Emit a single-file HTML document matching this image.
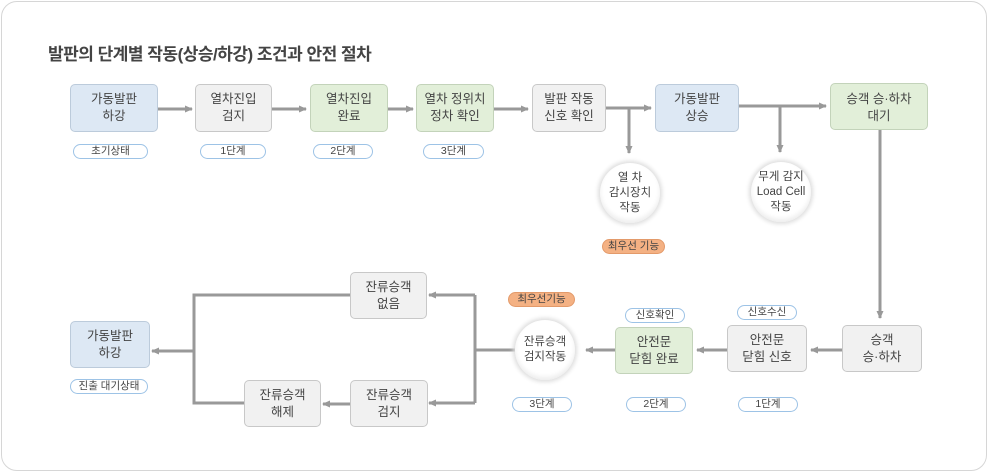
<!DOCTYPE html>
<html><head><meta charset="utf-8"><style>
body{margin:0;width:990px;height:474px;background:#fff;font-family:"Liberation Sans","Noto Sans CJK KR",sans-serif;position:relative;overflow:hidden}
.card{position:absolute;left:1px;top:1px;width:986px;height:470px;border:1px solid #d6d6d6;border-radius:16px;box-sizing:border-box}
.t{position:absolute;left:48px;top:40px;font-size:17px;font-weight:bold;color:#444;letter-spacing:-0.5px}
.b{position:absolute;box-sizing:border-box;border:1px solid #c8c8c8;border-radius:5px;display:flex;align-items:center;justify-content:center;text-align:center;font-size:12.5px;line-height:17px;color:#444}
.g{background:#f1f1f1}.bl{background:#dde8f4;border-color:#bccbdb}.gr{background:#e2efd9;border-color:#c3d3ba}
.p{position:absolute;box-sizing:border-box;height:15px;border:1px solid #9dc3e6;border-radius:8px;background:#fff;font-size:10.5px;line-height:13px;text-align:center;color:#444}
.o{background:#f4b183;border-color:#e39a6a}
.c{position:absolute;width:60px;height:60px;border-radius:50%;background:#fff;box-shadow:0 0 4px 2px #ddd,inset 0 -3px 5px #eee;display:flex;align-items:center;justify-content:center;text-align:center;font-size:11.5px;line-height:15px;color:#444}
svg{position:absolute;left:0;top:0}
</style></head><body>
<div class="card"></div>
<div class="t">발판의 단계별 작동(상승/하강) 조건과 안전 절차</div>
<svg width="990" height="474">
<defs><marker id="a" markerWidth="8" markerHeight="8" refX="7" refY="4" orient="auto" markerUnits="userSpaceOnUse"><path d="M0,0.5L8,4L0,7.5z" fill="#999"/></marker></defs>
<g stroke="#999" stroke-width="3" fill="none">
<path d="M158,109H192" marker-end="url(#a)"/>
<path d="M272,109H306" marker-end="url(#a)"/>
<path d="M388,109H413" marker-end="url(#a)"/>
<path d="M494,109H528" marker-end="url(#a)"/>
<path d="M606,108H651" marker-end="url(#a)"/>
<path d="M629,108V153" marker-end="url(#a)"/>
<path d="M739,106H826" marker-end="url(#a)"/>
<path d="M780,106V152" marker-end="url(#a)"/>
<path d="M880,130V318" marker-end="url(#a)"/>
<path d="M842,350H811" marker-end="url(#a)"/>
<path d="M727,350H697" marker-end="url(#a)"/>
<path d="M615,350H586" marker-end="url(#a)"/>
<path d="M515,350H475"/>
<path d="M475,295V403"/>
<path d="M475,295H429" marker-end="url(#a)"/>
<path d="M475,403H429" marker-end="url(#a)"/>
<path d="M350,404H323" marker-end="url(#a)"/>
<path d="M350,295H194V403H244"/>
<path d="M194,351H152" marker-end="url(#a)"/>
</g></svg>
<div class="b bl" style="left:70px;top:84px;width:88px;height:48px">가동발판<br>하강</div>
<div class="b g" style="left:195px;top:84px;width:77px;height:48px">열차진입<br>검지</div>
<div class="b gr" style="left:310px;top:84px;width:78px;height:48px">열차진입<br>완료</div>
<div class="b gr" style="left:416px;top:84px;width:78px;height:48px">열차 정위치<br>정차 확인</div>
<div class="b g" style="left:532px;top:84px;width:74px;height:48px">발판 작동<br>신호 확인</div>
<div class="b bl" style="left:655px;top:84px;width:84px;height:48px">가동발판<br>상승</div>
<div class="b gr" style="left:830px;top:83px;width:98px;height:47px;align-items:flex-start;padding-top:7px">승객 승·하차<br>대기</div>
<div class="p" style="left:73px;top:144px;width:75px">초기상태</div>
<div class="p" style="left:200px;top:144px;width:66px">1단계</div>
<div class="p" style="left:313px;top:144px;width:60px">2단계</div>
<div class="p" style="left:423px;top:144px;width:61px">3단계</div>
<div class="c" style="left:600px;top:163px">열 차<br>감시장치<br>작동</div>
<div class="c" style="left:751px;top:162px">무게 감지<br>Load Cell<br>작동</div>
<div class="p o" style="left:602px;top:239px;width:63px">최우선 기능</div>
<div class="b g" style="left:842px;top:325px;width:80px;height:47px">승객<br>승·하차</div>
<div class="b g" style="left:727px;top:325px;width:80px;height:47px">안전문<br>닫힘 신호</div>
<div class="b gr" style="left:615px;top:327px;width:78px;height:47px">안전문<br>닫힘 완료</div>
<div class="c" style="left:515px;top:320px">잔류승객<br>검지작동</div>
<div class="p" style="left:737px;top:305px;width:60px">신호수신</div>
<div class="p" style="left:625px;top:308px;width:60px">신호확인</div>
<div class="p o" style="left:508px;top:292px;width:67px">최우선기능</div>
<div class="p" style="left:512px;top:397px;width:60px">3단계</div>
<div class="p" style="left:626px;top:397px;width:60px">2단계</div>
<div class="p" style="left:738px;top:397px;width:60px">1단계</div>
<div class="b g" style="left:350px;top:272px;width:77px;height:47px">잔류승객<br>없음</div>
<div class="b g" style="left:350px;top:380px;width:78px;height:47px">잔류승객<br>검지</div>
<div class="b g" style="left:244px;top:380px;width:77px;height:47px">잔류승객<br>해제</div>
<div class="b bl" style="left:70px;top:321px;width:80px;height:47px">가동발판<br>하강</div>
<div class="p" style="left:70px;top:379px;width:78px">진출 대기상태</div>
</body></html>
